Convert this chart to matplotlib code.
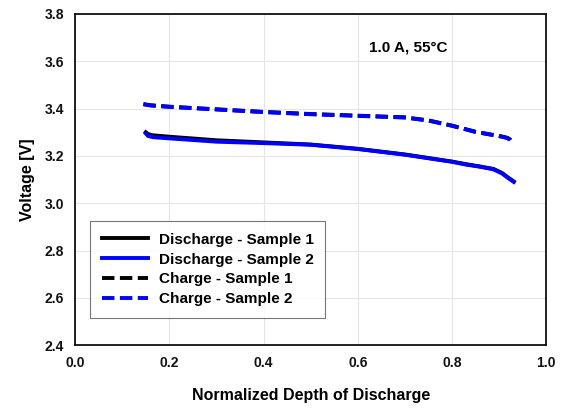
import matplotlib
matplotlib.use("Agg")
import matplotlib.pyplot as plt
import numpy as np

plt.rcParams['font.family'] = ['Liberation Sans', 'DejaVu Sans']
plt.rcParams['font.weight'] = 'bold'

dis_x = [0.150, 0.155, 0.165, 0.20, 0.30, 0.40, 0.50, 0.60, 0.70, 0.80, 0.83, 0.86, 0.888, 0.906, 0.918, 0.931]
dis1_y = [3.300, 3.292, 3.287, 3.281, 3.266, 3.257, 3.248, 3.230, 3.206, 3.176, 3.165, 3.155, 3.145, 3.128, 3.110, 3.092]
dis2_y = [3.295, 3.284, 3.279, 3.274, 3.260, 3.254, 3.247, 3.229, 3.205, 3.175, 3.163, 3.154, 3.143, 3.126, 3.108, 3.090]

chg_x = [0.145, 0.16, 0.20, 0.30, 0.40, 0.50, 0.60, 0.70, 0.75, 0.80, 0.85, 0.906, 0.918, 0.924, 0.929]
chg1_y = [3.419, 3.414, 3.408, 3.397, 3.386, 3.377, 3.370, 3.363, 3.350, 3.328, 3.302, 3.282, 3.276, 3.268, 3.254]
chg2_y = [3.418, 3.413, 3.407, 3.396, 3.385, 3.376, 3.369, 3.362, 3.349, 3.327, 3.301, 3.281, 3.275, 3.267, 3.253]

fig = plt.figure(figsize=(5.69, 4.09), dpi=100)
ax = fig.add_axes([0.132, 0.156, 0.828, 0.810])

dash = (0, (3.2, 1.4))
ax.plot(dis_x, dis1_y, color='black', lw=2.8, ls='-', label='Discharge - Sample 1')
ax.plot(dis_x, dis2_y, color='#0000ff', lw=2.8, ls='-', label='Discharge - Sample 2')
ax.plot(chg_x, chg1_y, color='black', lw=2.8, ls=dash, label='Charge - Sample 1')
ax.plot(chg_x, chg2_y, color='#0000ff', lw=2.8, ls=dash, label='Charge - Sample 2')

ax.set_xlim(0, 1.0)
ax.set_ylim(2.4, 3.8)
ax.set_xticks(np.arange(0, 1.01, 0.2))
ax.set_yticks(np.arange(2.4, 3.81, 0.2))
ax.set_xticklabels(['%.1f' % v for v in np.arange(0, 1.01, 0.2)])
ax.set_yticklabels(['%.1f' % v for v in np.arange(2.4, 3.81, 0.2)])
ax.tick_params(length=0, labelsize=10, pad=8, colors='#111111')
ax.grid(True, color='#e6e6e6', lw=0.8)
ax.set_axisbelow(True)
for s in ax.spines.values():
    s.set_linewidth(1.3)
    s.set_color('#111111')

ax.set_xlabel('Normalized Depth of Discharge', fontsize=11.5, fontweight='bold', labelpad=13)
ax.set_ylabel('Voltage [V]', fontsize=11.5, fontweight='bold', labelpad=7)

ax.text(0.708, 3.657, '1.0 A, 55°C', fontsize=11, fontweight='bold', ha='center', va='center')

leg = ax.legend(loc='lower left', bbox_to_anchor=(0.032, 0.082), fontsize=11, frameon=True,
                fancybox=False, edgecolor='#555555', handlelength=3.0, borderpad=0.78,
                labelspacing=0.38, handletextpad=0.7, borderaxespad=0)
leg.get_frame().set_linewidth(0.8)

fig.savefig('out.png', dpi=100)
